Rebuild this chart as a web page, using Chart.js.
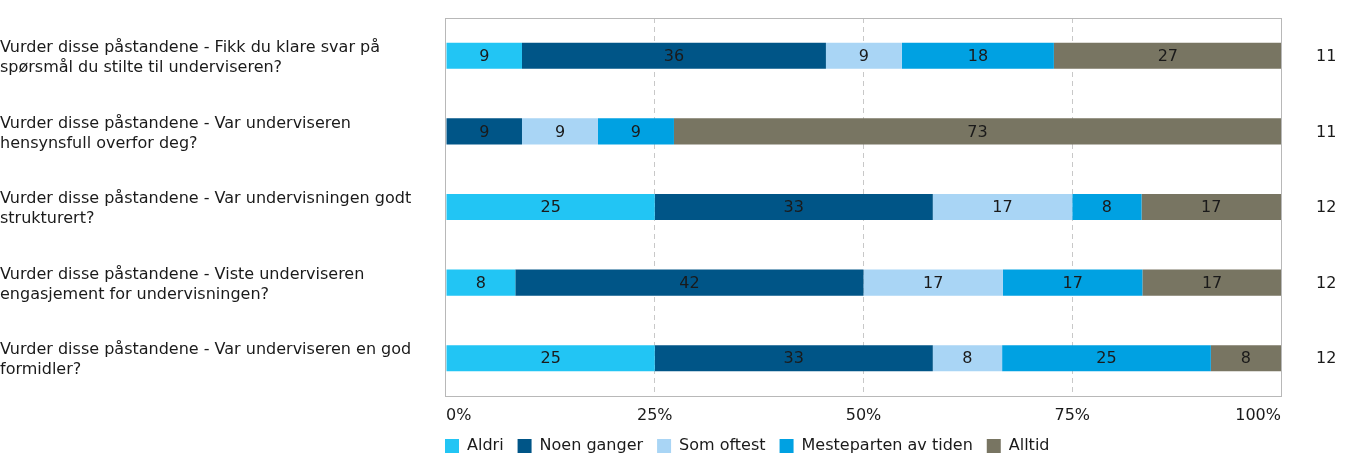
<!DOCTYPE html>
<html>
<head>
<meta charset="utf-8">
<script src="https://cdn.jsdelivr.net/npm/chart.js@4/dist/chart.umd.min.js"></script>
<style>
  html, body { margin: 0; padding: 0; background: #fff; }
  #wrap { width: 1348px; height: 461px; }
</style>
</head>
<body>
<div id="wrap"><canvas id="likertChart"></canvas></div>
<script>
// questions, answer percentages per category, and number of answers
const questions = [
    ["Vurder disse påstandene - Fikk du klare svar på", "spørsmål du stilte til underviseren?"],
    ["Vurder disse påstandene - Var underviseren", "hensynsfull overfor deg?"],
    ["Vurder disse påstandene - Var undervisningen godt", "strukturert?"],
    ["Vurder disse påstandene - Viste underviseren", "engasjement for undervisningen?"],
    ["Vurder disse påstandene - Var underviseren en god", "formidler?"]
];
const answerCounts = ["11", "11", "12", "12", "12"];

const aldri = [9.1, 0, 25, 8.3, 25];
const noenGanger = [36.4, 9.1, 33.3, 41.7, 33.3];
const somOftest = [9.1, 9.1, 16.7, 16.7, 8.3];
const mesteparten = [18.2, 9.1, 8.3, 16.7, 25];
const alltid = [27.3, 72.7, 16.7, 16.7, 8.4];

const xTicks = [0, 25, 50, 75, 100];

const FONT = "'DejaVu Sans', Verdana, sans-serif";
const SIZE = 16;
const LEFT_AXIS = 446;

// widest question line, so the left labels can start at x = 0
function widestLine(lines) {
    const c = document.createElement("canvas").getContext("2d");
    c.font = SIZE + "px " + FONT;
    let w = 0;
    lines.flat().forEach(t => { w = Math.max(w, c.measureText(t).width); });
    return w;
}
const labelPad = Math.max(6, LEFT_AXIS - widestLine(questions));

// writes the rounded value in the middle of each bar segment
const barValues = {
    id: "barValues",
    afterDatasetsDraw(chart) {
        const ctx = chart.ctx;
        ctx.save();
        ctx.font = SIZE + "px " + FONT;
        ctx.fillStyle = "#1a1a1a";
        ctx.textAlign = "center";
        ctx.textBaseline = "middle";
        chart.data.datasets.forEach(function (ds, i) {
            chart.getDatasetMeta(i).data.forEach(function (bar, j) {
                const v = ds.data[j];
                if (!v) return;
                const p = bar.getCenterPoint();
                ctx.fillText(Math.round(v), p.x, p.y + 1);
            });
        });
        ctx.restore();
    }
};

// grey frame round the plot, legend moved under the plot's left edge
const plotFrame = {
    id: "plotFrame",
    beforeDraw(chart) {
        chart.legend.left = chart.chartArea.left - 15;
        chart.legend.top = chart.chartArea.bottom + 28;
    },
    afterDatasetsDraw(chart) {
        const a = chart.chartArea;
        const ctx = chart.ctx;
        ctx.save();
        ctx.strokeStyle = "#b8b8b8";
        ctx.lineWidth = 1;
        ctx.strokeRect(Math.round(a.left) - 0.5, Math.round(a.top) + 0.5,
            Math.round(a.right - a.left) + 1, Math.round(a.bottom - a.top));
        ctx.restore();
    }
};

function noPadding(s) {
    s.paddingTop = 0;
    s.paddingBottom = 0;
    s.paddingLeft = 0;
    s.paddingRight = 0;
}

function makeSet(label, data, color) {
    return {
        label: label,
        data: data,
        backgroundColor: color,
        borderWidth: 0,
        categoryPercentage: 1,
        barPercentage: 0.345
    };
}

new Chart(document.getElementById("likertChart"), {
    type: "bar",
    data: {
        labels: questions,
        datasets: [
            makeSet("Aldri", aldri, "#22c5f4"),
            makeSet("Noen ganger", noenGanger, "#005587"),
            makeSet("Som oftest", somOftest, "#a9d5f5"),
            makeSet("Mesteparten av tiden", mesteparten, "#00a1e2"),
            makeSet("Alltid", alltid, "#787562")
        ]
    },
    plugins: [barValues, plotFrame],
    options: {
        indexAxis: "y",
        responsive: true,
        maintainAspectRatio: false,
        animation: false,
        layout: { padding: { top: 18, right: 12, left: 0, bottom: 0 } },
        plugins: {
            tooltip: { enabled: false },
            legend: {
                position: "bottom",
                align: "start",
                maxHeight: 34,
                labels: {
                    boxWidth: 14,
                    boxHeight: 14,
                    padding: 14,
                    color: "#1a1a1a",
                    font: { family: FONT, size: SIZE }
                }
            }
        },
        scales: {
            x: {
                stacked: true,
                min: 0,
                max: 100,
                afterBuildTicks(s) { s.ticks = xTicks.map(v => ({ value: v })); },
                afterFit(s) { noPadding(s); s.height = 31; },
                ticks: {
                    align: "inner",
                    padding: 10,
                    color: "#1a1a1a",
                    font: { family: FONT, size: SIZE },
                    callback: v => v + "%"
                },
                grid: {
                    drawTicks: false,
                    color: c => (c.tick && (c.tick.value === 0 || c.tick.value === 100)) ? "rgba(0,0,0,0)" : "#c8c8c8"
                },
                border: { display: false, dash: [5, 4] }
            },
            y: {
                stacked: true,
                afterFit(s) { noPadding(s); s.width = LEFT_AXIS; },
                ticks: {
                    crossAlign: "far",
                    padding: labelPad,
                    labelOffset: 2,
                    color: "#1a1a1a",
                    font: { family: FONT, size: SIZE, lineHeight: 1.25 }
                },
                grid: { display: false, drawTicks: false },
                border: { display: false }
            },
            yCount: {
                type: "category",
                axis: "y",
                position: "right",
                offset: true,
                labels: answerCounts,
                afterFit(s) { noPadding(s); s.width = 55; },
                ticks: {
                    padding: 35,
                    labelOffset: 1,
                    color: "#1a1a1a",
                    font: { family: FONT, size: SIZE }
                },
                grid: { display: false, drawTicks: false },
                border: { display: false }
            }
        }
    }
});
</script>
</body>
</html>
